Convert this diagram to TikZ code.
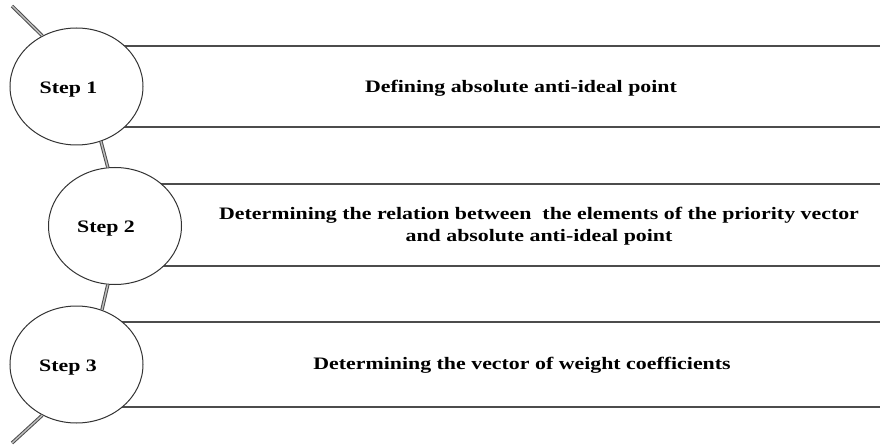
\documentclass[tikz,border=0pt]{standalone}
\usepackage{fontspec}
\setmainfont{Liberation Serif}
\newfontfamily\widefont[FakeStretch=1.25]{Liberation Serif}
\usetikzlibrary{shapes.geometric}
\tikzset{
  stepcircle/.style={ellipse, draw=black!80, line width=1pt, fill=white,
    minimum width=133pt, minimum height=117pt, inner sep=0pt},
  steplabel/.style={font=\widefont\bfseries\fontsize{17.5}{22}\selectfont, inner sep=0pt},
  boxtext/.style={font=\widefont\bfseries\fontsize{17.5}{22}\selectfont, align=center, inner sep=0pt},
  boxline/.style={draw=black!70, line width=1.4pt},
  conn/.style={draw=black!70, double=black!25, line width=1pt, double distance=1.4pt},
}
\begin{document}
\begin{tikzpicture}[x=1pt,y=-1pt]
\path[fill=white] (0,0) rectangle (880,446);
\useasboundingbox (0,0) rectangle (880,446);
% box lines
\coordinate (b1tl) at (76,46);  \coordinate (b1tr) at (881,46);
\coordinate (b1bl) at (76,127); \coordinate (b1br) at (881,127);
\coordinate (b2tl) at (115,184); \coordinate (b2tr) at (881,184);
\coordinate (b2bl) at (115,266); \coordinate (b2br) at (881,266);
\coordinate (b3tl) at (76,322); \coordinate (b3tr) at (881,322);
\coordinate (b3bl) at (76,407); \coordinate (b3br) at (881,407);
\draw[boxline] (b1tl) -- (b1tr);
\draw[boxline] (b1bl) -- (b1br);
\draw[boxline] (b2tl) -- (b2tr);
\draw[boxline] (b2bl) -- (b2br);
\draw[boxline] (b3tl) -- (b3tr);
\draw[boxline] (b3bl) -- (b3br);
% circles
\node[stepcircle] (c1) at (76.5,86.5) {};
\node[stepcircle] (c2) at (115,226) {};
\node[stepcircle] (c3) at (76.5,364.5) {};
\node[steplabel] (l1) at (68.5,90) {Step 1};
\node[steplabel] (l2) at (106,229) {Step 2};
\node[steplabel] (l3) at (68,368) {Step 3};
% connectors
\coordinate (s) at (12,6);
\coordinate (e) at (12,443);
\draw[conn] (s) -- (c1.124);
\draw[conn] (c1.294) -- (c2.97);
\draw[conn] (c2.263) -- (c3.65);
\draw[conn] (c3.236) -- (e);
% texts
\node[boxtext] (t1) at (521,88) {Defining absolute anti-ideal point};
\node[boxtext] (t2) at (539,226) {Determining the relation between\ \ the elements of the priority vector\\and absolute anti-ideal point};
\node[boxtext] (t3) at (522,365) {Determining the vector of weight coefficients};
\end{tikzpicture}
\end{document}
